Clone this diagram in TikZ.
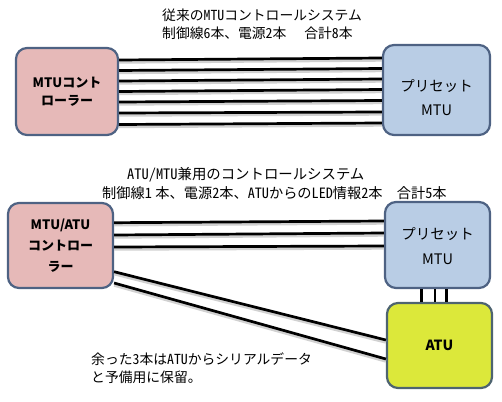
\documentclass[tikz,border=0pt]{standalone}
\usepackage{fontspec}
\setmainfont{Noto Sans CJK JP}
\newfontfamily\hwfont[RawFeature=+hwid]{Noto Sans CJK JP}
\usetikzlibrary{calc}
\definecolor{pinkfill}{HTML}{E6B9B8}
\definecolor{bluefill}{HTML}{B9CDE5}
\definecolor{atufill}{HTML}{DCE83A}
\definecolor{boxline}{HTML}{4E6283}
\definecolor{atuline}{HTML}{4E6470}
\tikzset{
  unit/.style={draw=boxline, line width=2.2pt, rounded corners=11pt, inner sep=0pt},
  boxtext/.style={inner sep=0pt, align=center},
  wire/.style={line width=2.7pt, black},
  wshadow/.style={line width=3pt, black!18},
  lbl/.style={font=\hwfont\fontsize{13.8}{17.5}\selectfont, inner sep=0pt, anchor=west},
}
\begin{document}
\begin{tikzpicture}[x=1pt,y=-1pt]
\useasboundingbox (0,0) rectangle (502,401);
% top
\node[unit, fill=pinkfill, minimum width=102pt, minimum height=87pt] (A) at (67,91.5) {};
\node[boxtext, font=\bfseries\fontsize{13}{18}\selectfont] (At) at (A.center) {MTUコント\\ローラー};
\node[unit, fill=bluefill, minimum width=107pt, minimum height=90pt] (B) at (436.5,90) {};
\node[boxtext, font=\fontsize{14.5}{24.5}\selectfont] (Bt) at ([yshift=-7.5pt]B.center) {プリセット\\MTU};
\node[lbl] (t1a) at (162,15.5) {従来のMTUコントロールシステム};
\node[lbl] (t1b) at (162,33.5) {制御線6本、電源2本\hspace{1.3em}合計8本};
\foreach \l/\r in {60/58,70.5/68.5,81/79,91.5/89.5,102/100.5,113/112,124.5/123}{
  \draw[wshadow] ([yshift={91.5-\l-2.2}]A.east) -- ([yshift={90-\r-2.2}]B.west);
  \draw[wire] ([yshift={91.5-\l}]A.east) -- ([yshift={90-\r}]B.west);
}
% bottom
\node[unit, fill=pinkfill, minimum width=105pt, minimum height=85pt] (C) at (60.5,245.5) {};
\node[boxtext, font=\bfseries\fontsize{13}{21}\selectfont] (Ct) at (C.center) {MTU/ATU\\コントロー\\ラー};
\node[unit, fill=bluefill, minimum width=105pt, minimum height=86pt] (D) at (437.5,245) {};
\node[boxtext, font=\fontsize{14.5}{25}\selectfont] (Dt) at ([yshift=-1.5pt]D.center) {プリセット\\MTU};
\node[unit, draw=atuline, fill=atufill, minimum width=105pt, minimum height=85pt] (E) at (439.5,345.5) {};
\node[boxtext, font=\bfseries\fontsize{14}{17}\selectfont] (Et) at (E.center) {ATU};
\node[lbl, font=\hwfont\fontsize{14.4}{17}\selectfont] (t2a) at (127,175) {ATU/MTU兼用のコントロールシステム};
\node[lbl, font=\hwfont\fontsize{14.2}{17}\selectfont] (t2b) at (102,193) {制御線1\hspace{0.25em}本、電源2本、ATUからのLED情報2本\hspace{1.0em}合計5本};
\node[lbl, align=left, anchor=north west] (t3) at (91,353) {余った3本はATUからシリアルデータ\\と予備用に保留。};
\foreach \l/\r in {222.7/221,235/233,247/246}{
  \draw[wshadow] ([yshift={245.5-\l-2.2}]C.east) -- ([yshift={245-\r-2.2}]D.west);
  \draw[wire] ([yshift={245.5-\l}]C.east) -- ([yshift={245-\r}]D.west);
}
\foreach \l/\r in {271.7/340,283/359}{
  \draw[wshadow] ([yshift={245.5-\l-2.2}]C.east) -- ([yshift={345.5-\r-2.2}]E.west);
  \draw[wire] ([yshift={245.5-\l}]C.east) -- ([yshift={345.5-\r}]E.west);
}
\foreach \dx in {-16,-2.5,9.2}{
  \draw[wire] ([xshift=\dx pt]D.south) -- ([xshift=\dx pt]D.south |- E.north);
}
\end{tikzpicture}
\end{document}
